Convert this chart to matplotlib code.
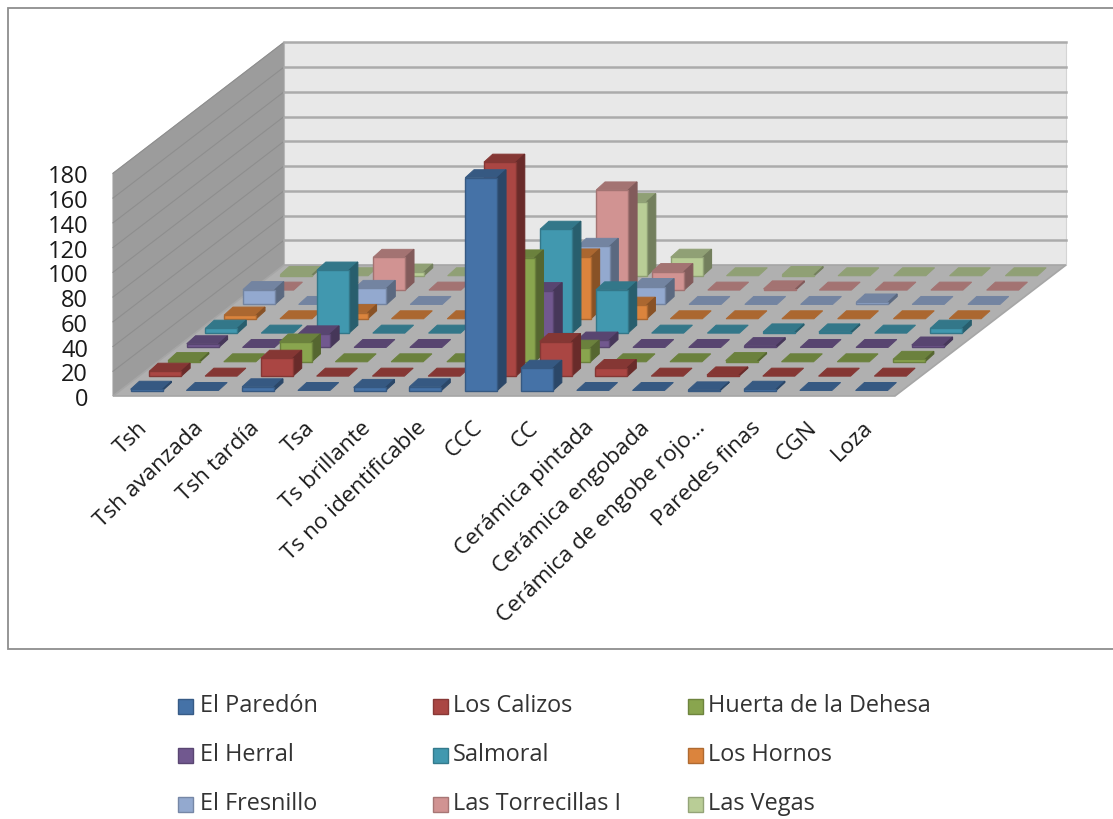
import matplotlib
matplotlib.use("Agg")
import matplotlib.pyplot as plt
from matplotlib.patches import Polygon, Rectangle
from matplotlib.colors import to_rgb

categories = ["Tsh", "Tsh avanzada", "Tsh tardía", "Tsa", "Ts brillante", "Ts no identificable",
              "CCC", "CC", "Cerámica pintada", "Cerámica engobada",
              "Cerámica de engobe rojo…", "Paredes finas", "CGN", "Loza"]
series_names = ["El Paredón", "Los Calizos", "Huerta de la Dehesa", "El Herral", "Salmoral",
                "Los Hornos", "El Fresnillo", "Las Torrecillas I", "Las Vegas"]
el_paredon = [1, 0, 3, 0, 2.5, 3, 172, 18, 0, 0, 0.5, 1, 0, 0]
los_calizos = [4, 0, 14.5, 0, 0, 0, 173, 28, 7, 0, 1, 0, 0, 0]
huerta = [1, 0, 16, 0, 0, 0, 84, 11, 0, 0, 1, 0, 0, 2]
el_herral = [3, 0, 11, 0, 0, 0, 46, 6, 0, 0, 1.5, 0, 0, 2]
salmoral = [4, 0, 51, 0, 0, 0, 84, 35, 0, 0, 1, 1, 0, 4]
los_hornos = [3, 0, 5, 0, 0, 0, 50, 11, 0, 0, 0, 0, 0, 0]
el_fresnillo = [12, 0, 13, 0, 0, 0, 47, 14.5, 0, 0, 0, 2, 0, 0]
torrecillas = [0, 0, 26.5, 0, 0, 0, 81, 15, 0, 1, 0, 0, 0, 0]
las_vegas = [1, 0, 3, 0, 0, 0, 60, 15, 0, 1, 0, 0, 0, 0]
all_series = [el_paredon, los_calizos, huerta, el_herral, salmoral,
              los_hornos, el_fresnillo, torrecillas, las_vegas]
colors = ["#4572A7", "#AA4643", "#89A54E", "#71588F", "#4198AF",
          "#DB843D", "#93A9CF", "#D19392", "#B9CD96"]
value_ticks = list(range(0, 200, 20))

# oblique projection, in figure pixels
X0, Y0 = 113.0, 396.0
DEPTH_Y, SKEW = 131.0, 171.0 / 131.0
CAT_START, CAT_STEP = 25.6, 55.77
ROW_START, ROW_STEP = 9.5, 14.34
VY = 1.237
BAR_W, BAR_D = 32.0, 8.0
BAR_SKEW = 1.1
FLOOR_W = 782.0
VMAX = 180


def proj(cat_px, depth_px, value):
    return (X0 + cat_px + depth_px * SKEW, Y0 - depth_px - value * VY)


def shade(c, f):
    return tuple(v * f for v in to_rgb(c))


fig = plt.figure(figsize=(11.13, 8.19), dpi=100)
ax = fig.add_axes([0, 0, 1, 1])
ax.set_xlim(0, 1113)
ax.set_ylim(819, 0)
ax.axis("off")
plt.rcParams["font.family"] = "Open Sans"

ax.add_patch(Rectangle((8, 8), 1120, 641, fc="white", ec="#8E8E8E", lw=1.3, zorder=0))

# walls and floor
back = [proj(0, DEPTH_Y, 0), proj(FLOOR_W, DEPTH_Y, 0), proj(FLOOR_W, DEPTH_Y, VMAX), proj(0, DEPTH_Y, VMAX)]
ax.add_patch(Polygon(back, fc="#E8E8E8", ec="#D4D4D4", lw=0.8, zorder=1))
left = [proj(0, 0, 0), proj(0, DEPTH_Y, 0), proj(0, DEPTH_Y, VMAX), proj(0, 0, VMAX)]
ax.add_patch(Polygon(left, fc="#9C9C9C", ec="#A0A0A0", lw=0.8, zorder=1))
for v in value_ticks[1:]:
    p0, p1, p2 = proj(0, 0, v), proj(0, DEPTH_Y, v), proj(FLOOR_W, DEPTH_Y, v)
    ax.plot([p0[0], p1[0]], [p0[1], p1[1]], color="#8E8E8E", lw=0.8, zorder=2)
    ax.plot([p1[0], p2[0]], [p1[1], p2[1]], color="#ABABAB", lw=1.8, zorder=2)
floor = [proj(0, 0, 0), proj(FLOOR_W, 0, 0), proj(FLOOR_W, DEPTH_Y, 0), proj(0, DEPTH_Y, 0)]
ax.add_patch(Polygon(floor, fc="#B0B0B0", ec="#A6A6A6", lw=1.2, zorder=3))


def corner(cat_c, row_d, sx, sd, value):
    px, py = proj(cat_c, row_d, value)
    return (px + sx * BAR_W / 2 + sd * BAR_D / 2 * BAR_SKEW, py - sd * BAR_D / 2)


# bars: back row first
z = 4
for j in range(len(all_series) - 1, -1, -1):
    vals, col = all_series[j], colors[j]
    dep = ROW_START + j * ROW_STEP
    for i, v in enumerate(vals):
        c = CAT_START + i * CAT_STEP
        top = [corner(c, dep, -1, -1, v), corner(c, dep, 1, -1, v),
               corner(c, dep, 1, 1, v), corner(c, dep, -1, 1, v)]
        top_c, side_c = shade(col, 0.78), shade(col, 0.62)
        ax.add_patch(Polygon(top, fc=top_c, ec=top_c, lw=0.7, zorder=z))
        if v > 0:
            side = [corner(c, dep, 1, -1, 0), corner(c, dep, 1, 1, 0),
                    corner(c, dep, 1, 1, v), corner(c, dep, 1, -1, v)]
            ax.add_patch(Polygon(side, fc=side_c, ec=side_c, lw=0.8, zorder=z))
            front = [corner(c, dep, -1, -1, 0), corner(c, dep, 1, -1, 0),
                     corner(c, dep, 1, -1, v), corner(c, dep, -1, -1, v)]
            ax.add_patch(Polygon(front, fc=col, ec=top_c, lw=1.0, zorder=z))
        z += 1

# value axis labels
for v in value_ticks:
    x, y = proj(0, 0, v)
    ax.text(x - 25, y + 4, str(v), ha="right", va="center", fontsize=17, color="#1A1A1A", zorder=z)

# category labels
for i, name in enumerate(categories):
    x = X0 + CAT_START + i * CAT_STEP + 6
    ax.text(x, 425, name, rotation=44, rotation_mode="anchor", ha="right", va="center",
            fontsize=16.2, color="#1A1A1A", zorder=z)

# legend
for k, name in enumerate(series_names):
    lx = 178 + (k % 3) * 255
    ly = 706 + (k // 3) * 49
    ax.add_patch(Rectangle((lx, ly - 7.5), 15, 15, fc=colors[k], ec=shade(colors[k], 0.8), lw=1.0, zorder=z))
    ax.text(lx + 20 + (k % 3 == 0) * 2, ly, name, ha="left", va="center", fontsize=16.9, color="#333333", zorder=z)

fig.savefig("out.png", dpi=100)
